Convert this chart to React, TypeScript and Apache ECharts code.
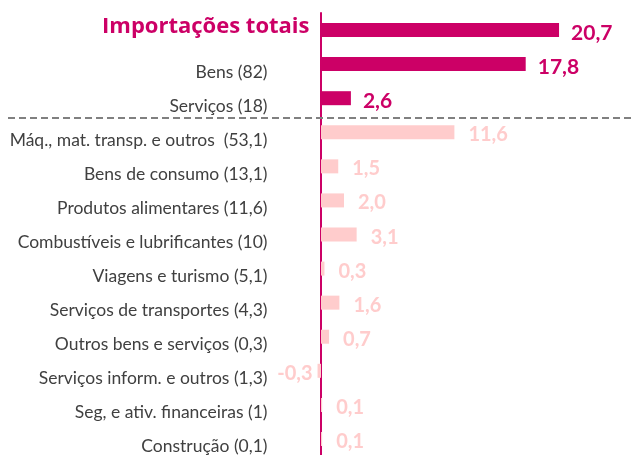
import React, { useEffect, useRef } from "react";
import * as echarts from "echarts";

const categories = [
  "Importações totais",
  "Bens (82)",
  "Serviços (18)",
  "Máq., mat. transp. e outros  (53,1)",
  "Bens de consumo (13,1)",
  "Produtos alimentares (11,6)",
  "Combustíveis e lubrificantes (10)",
  "Viagens e turismo (5,1)",
  "Serviços de transportes (4,3)",
  "Outros bens e serviços (0,3)",
  "Serviços inform. e outros (1,3)",
  "Seg, e ativ. financeiras (1)",
  "Construção (0,1)",
];

const values = [20.7, 17.8, 2.6, 11.6, 1.5, 2.0, 3.1, 0.3, 1.6, 0.7, -0.3, 0.1, 0.1];

const highlightCount = 3;

const MAGENTA = "#CC0066";
const LIGHT = "#FFCCCC";
const FONT = "Lato";

export default function App() {
  const ref = useRef<HTMLDivElement>(null);

  useEffect(() => {
    if (!ref.current) return;
    const chart = echarts.init(ref.current, null, { renderer: "svg" });

    const data = values.map((v, i) => {
      const hi = i < highlightCount;
      return {
        value: v,
        itemStyle: { color: hi ? MAGENTA : LIGHT },
        label: {
          show: true,
          position: v < 0 ? "left" : "right",
          distance: v < 0 ? 5 : hi ? 12 : 14,
          color: hi ? MAGENTA : LIGHT,
          fontSize: hi ? 21 : 20,
          fontWeight: "bold",
          fontFamily: FONT,
          offset: [0, 1],
          formatter: (p: any) => Number(p.value).toFixed(1).replace(".", ","),
        },
      };
    });

    chart.setOption({
      animation: false,
      grid: {
        left: 309.5,
        right: 37,
        top: 13,
        height: 443,
        containLabel: false,
        outerBoundsMode: "none",
      },
      xAxis: {
        type: "value",
        min: -1,
        max: 24,
        show: false,
        splitLine: { show: false },
      },
      yAxis: {
        type: "category",
        data: categories,
        inverse: true,
        axisTick: { show: false },
        axisLine: { show: true, onZero: true, lineStyle: { color: MAGENTA, width: 2 } },
        axisLabel: {
          margin: 0,
          formatter: (v: string, i: number) => (i === 0 ? `{t|${v}}` : `{n|${v}}`),
          rich: {
            t: {
              fontSize: 22,
              fontWeight: "bold",
              color: MAGENTA,
              fontFamily: "Open Sans",
              padding: [0, 0, 12, 0],
            },
            n: {
              fontSize: 17.5,
              color: "#404040",
              fontFamily: FONT,
              padding: [14, 42, 0, 0],
            },
          },
        },
      },
      graphic: [
        {
          type: "line",
          shape: { x1: 8, y1: 118, x2: 634, y2: 118 },
          style: { stroke: "#808080", lineWidth: 2, lineDash: [7, 4] },
          z: 10,
        },
      ],
      series: [
        {
          type: "bar",
          data,
          barWidth: 14,
        },
      ],
    });

    return () => chart.dispose();
  }, []);

  return (
    <div
      ref={ref}
      style={{ position: "fixed", left: 0, top: 0, width: 634, height: 455 }}
    />
  );
}
